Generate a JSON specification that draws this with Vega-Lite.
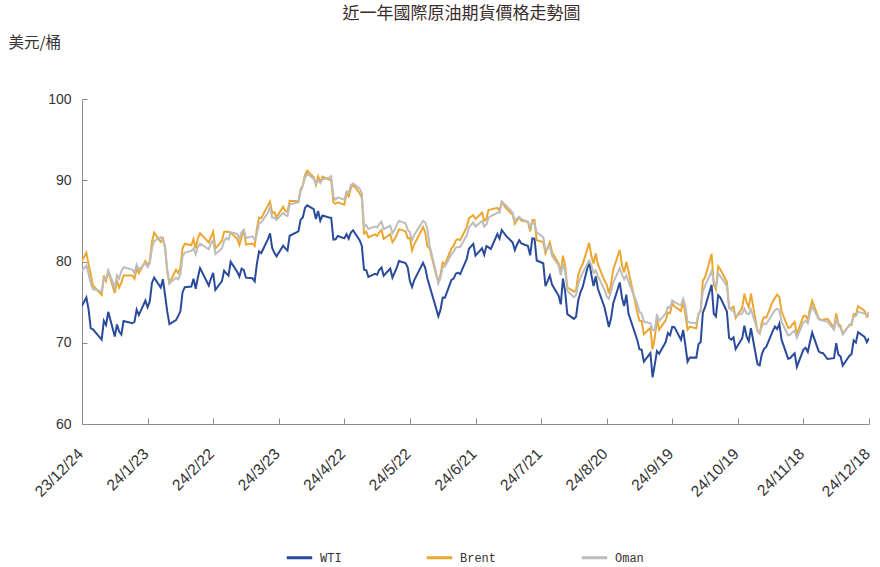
{
"$schema": "https://vega.github.io/schema/vega-lite/v6.json",
"width": 787, "height": 325,
"autosize": "none",
"padding": {"left": 82, "top": 99, "right": 11, "bottom": 143},
"background": "white",
"title": {"text": "近一年國際原油期貨價格走勢圖", "anchor": "middle", "dx": -14, "offset": 12, "font": "Noto Sans CJK TC", "fontSize": 17, "fontWeight": "normal", "color": "#3a2c2c"},
"data": {"values": [
{"d":"2023-12-22","WTI":73.56,"Brent":79.07,"Oman":78.3},
{"d":"2023-12-26","WTI":75.57,"Brent":81.07,"Oman":79.5},
{"d":"2023-12-27","WTI":74.11,"Brent":79.65,"Oman":78.5},
{"d":"2023-12-28","WTI":71.77,"Brent":78.39,"Oman":77.3},
{"d":"2023-12-29","WTI":71.65,"Brent":77.04,"Oman":76.6},
{"d":"2024-01-02","WTI":70.38,"Brent":75.89,"Oman":76.3},
{"d":"2024-01-03","WTI":72.70,"Brent":78.25,"Oman":77.9},
{"d":"2024-01-04","WTI":72.19,"Brent":77.59,"Oman":77.8},
{"d":"2024-01-05","WTI":73.81,"Brent":78.76,"Oman":78.9},
{"d":"2024-01-08","WTI":70.77,"Brent":76.12,"Oman":76.8},
{"d":"2024-01-09","WTI":72.24,"Brent":77.59,"Oman":78.3},
{"d":"2024-01-10","WTI":71.37,"Brent":76.80,"Oman":77.9},
{"d":"2024-01-11","WTI":71.02,"Brent":77.41,"Oman":78.8},
{"d":"2024-01-12","WTI":72.68,"Brent":78.29,"Oman":79.3},
{"d":"2024-01-16","WTI":72.40,"Brent":78.29,"Oman":79.0},
{"d":"2024-01-17","WTI":72.56,"Brent":77.88,"Oman":78.6},
{"d":"2024-01-18","WTI":74.08,"Brent":79.10,"Oman":79.6},
{"d":"2024-01-19","WTI":73.41,"Brent":78.56,"Oman":79.0},
{"d":"2024-01-22","WTI":75.19,"Brent":80.06,"Oman":79.8},
{"d":"2024-01-23","WTI":74.37,"Brent":79.55,"Oman":79.3},
{"d":"2024-01-24","WTI":75.09,"Brent":80.04,"Oman":79.8},
{"d":"2024-01-25","WTI":77.36,"Brent":82.43,"Oman":81.6},
{"d":"2024-01-26","WTI":78.01,"Brent":83.55,"Oman":82.5},
{"d":"2024-01-29","WTI":76.78,"Brent":82.40,"Oman":83.0},
{"d":"2024-01-30","WTI":77.82,"Brent":82.87,"Oman":82.6},
{"d":"2024-01-31","WTI":75.85,"Brent":81.71,"Oman":81.8},
{"d":"2024-02-01","WTI":73.82,"Brent":78.70,"Oman":79.0},
{"d":"2024-02-02","WTI":72.28,"Brent":77.33,"Oman":77.3},
{"d":"2024-02-05","WTI":72.78,"Brent":78.99,"Oman":78.0},
{"d":"2024-02-06","WTI":73.31,"Brent":78.59,"Oman":77.8},
{"d":"2024-02-07","WTI":73.86,"Brent":79.21,"Oman":78.4},
{"d":"2024-02-08","WTI":76.22,"Brent":81.63,"Oman":80.6},
{"d":"2024-02-09","WTI":76.84,"Brent":82.19,"Oman":81.1},
{"d":"2024-02-12","WTI":76.92,"Brent":82.00,"Oman":81.3},
{"d":"2024-02-13","WTI":77.87,"Brent":82.77,"Oman":81.6},
{"d":"2024-02-14","WTI":76.64,"Brent":81.60,"Oman":80.9},
{"d":"2024-02-15","WTI":78.03,"Brent":82.86,"Oman":81.8},
{"d":"2024-02-16","WTI":79.19,"Brent":83.47,"Oman":82.2},
{"d":"2024-02-20","WTI":77.04,"Brent":82.34,"Oman":81.5},
{"d":"2024-02-21","WTI":77.91,"Brent":83.03,"Oman":82.3},
{"d":"2024-02-22","WTI":78.61,"Brent":83.67,"Oman":82.6},
{"d":"2024-02-23","WTI":76.49,"Brent":81.62,"Oman":80.9},
{"d":"2024-02-26","WTI":77.58,"Brent":82.53,"Oman":81.6},
{"d":"2024-02-27","WTI":78.87,"Brent":83.65,"Oman":82.5},
{"d":"2024-02-28","WTI":78.54,"Brent":83.68,"Oman":82.9},
{"d":"2024-02-29","WTI":78.26,"Brent":83.62,"Oman":82.7},
{"d":"2024-03-01","WTI":79.97,"Brent":83.55,"Oman":83.6},
{"d":"2024-03-04","WTI":78.74,"Brent":82.80,"Oman":83.4},
{"d":"2024-03-05","WTI":78.15,"Brent":82.04,"Oman":82.8},
{"d":"2024-03-06","WTI":79.13,"Brent":82.96,"Oman":83.6},
{"d":"2024-03-07","WTI":78.93,"Brent":83.96,"Oman":83.9},
{"d":"2024-03-08","WTI":78.01,"Brent":82.08,"Oman":82.9},
{"d":"2024-03-11","WTI":77.93,"Brent":82.21,"Oman":83.1},
{"d":"2024-03-12","WTI":77.56,"Brent":81.92,"Oman":82.7},
{"d":"2024-03-13","WTI":79.72,"Brent":84.03,"Oman":83.4},
{"d":"2024-03-14","WTI":81.26,"Brent":85.42,"Oman":84.7},
{"d":"2024-03-15","WTI":81.04,"Brent":85.34,"Oman":84.8},
{"d":"2024-03-18","WTI":82.72,"Brent":86.89,"Oman":86.0},
{"d":"2024-03-19","WTI":83.47,"Brent":87.38,"Oman":86.7},
{"d":"2024-03-20","WTI":81.68,"Brent":85.95,"Oman":85.4},
{"d":"2024-03-21","WTI":81.07,"Brent":86.06,"Oman":85.4},
{"d":"2024-03-22","WTI":80.63,"Brent":85.43,"Oman":85.1},
{"d":"2024-03-25","WTI":81.95,"Brent":86.75,"Oman":86.0},
{"d":"2024-03-26","WTI":81.62,"Brent":86.25,"Oman":85.7},
{"d":"2024-03-27","WTI":81.35,"Brent":86.09,"Oman":85.6},
{"d":"2024-03-28","WTI":83.17,"Brent":87.48,"Oman":87.0},
{"d":"2024-04-01","WTI":83.71,"Brent":87.42,"Oman":87.3},
{"d":"2024-04-02","WTI":85.15,"Brent":88.92,"Oman":88.6},
{"d":"2024-04-03","WTI":85.43,"Brent":89.35,"Oman":89.3},
{"d":"2024-04-04","WTI":86.59,"Brent":90.65,"Oman":90.3},
{"d":"2024-04-05","WTI":86.91,"Brent":91.17,"Oman":90.8},
{"d":"2024-04-08","WTI":86.43,"Brent":90.38,"Oman":90.2},
{"d":"2024-04-09","WTI":85.23,"Brent":89.42,"Oman":89.6},
{"d":"2024-04-10","WTI":86.21,"Brent":90.48,"Oman":90.0},
{"d":"2024-04-11","WTI":85.02,"Brent":89.74,"Oman":89.7},
{"d":"2024-04-12","WTI":85.66,"Brent":90.45,"Oman":90.1},
{"d":"2024-04-15","WTI":85.41,"Brent":90.10,"Oman":90.3},
{"d":"2024-04-16","WTI":85.36,"Brent":90.02,"Oman":90.5},
{"d":"2024-04-17","WTI":82.69,"Brent":87.29,"Oman":88.0},
{"d":"2024-04-18","WTI":82.73,"Brent":87.11,"Oman":87.6},
{"d":"2024-04-19","WTI":83.14,"Brent":87.29,"Oman":87.9},
{"d":"2024-04-22","WTI":82.85,"Brent":87.00,"Oman":87.6},
{"d":"2024-04-23","WTI":83.36,"Brent":88.42,"Oman":88.6},
{"d":"2024-04-24","WTI":82.81,"Brent":88.02,"Oman":88.5},
{"d":"2024-04-25","WTI":83.57,"Brent":89.01,"Oman":89.4},
{"d":"2024-04-26","WTI":83.85,"Brent":89.50,"Oman":89.6},
{"d":"2024-04-29","WTI":82.63,"Brent":88.40,"Oman":89.0},
{"d":"2024-04-30","WTI":81.93,"Brent":87.86,"Oman":88.4},
{"d":"2024-05-01","WTI":79.00,"Brent":83.44,"Oman":84.3},
{"d":"2024-05-02","WTI":78.95,"Brent":83.67,"Oman":84.5},
{"d":"2024-05-03","WTI":78.11,"Brent":82.96,"Oman":84.0},
{"d":"2024-05-06","WTI":78.48,"Brent":83.33,"Oman":84.3},
{"d":"2024-05-07","WTI":78.38,"Brent":83.16,"Oman":84.2},
{"d":"2024-05-08","WTI":78.99,"Brent":83.58,"Oman":84.6},
{"d":"2024-05-09","WTI":79.26,"Brent":83.88,"Oman":84.9},
{"d":"2024-05-10","WTI":78.26,"Brent":82.79,"Oman":84.0},
{"d":"2024-05-13","WTI":79.12,"Brent":83.36,"Oman":84.4},
{"d":"2024-05-14","WTI":78.02,"Brent":82.38,"Oman":83.5},
{"d":"2024-05-15","WTI":78.63,"Brent":82.75,"Oman":83.9},
{"d":"2024-05-16","WTI":79.23,"Brent":83.27,"Oman":84.5},
{"d":"2024-05-17","WTI":80.06,"Brent":83.98,"Oman":85.0},
{"d":"2024-05-20","WTI":79.80,"Brent":83.71,"Oman":84.7},
{"d":"2024-05-21","WTI":79.26,"Brent":82.88,"Oman":83.9},
{"d":"2024-05-22","WTI":77.57,"Brent":82.90,"Oman":83.6},
{"d":"2024-05-23","WTI":76.87,"Brent":81.36,"Oman":82.6},
{"d":"2024-05-24","WTI":77.72,"Brent":82.12,"Oman":83.3},
{"d":"2024-05-28","WTI":79.83,"Brent":84.22,"Oman":85.0},
{"d":"2024-05-29","WTI":79.23,"Brent":83.60,"Oman":84.8},
{"d":"2024-05-30","WTI":77.91,"Brent":81.86,"Oman":84.0},
{"d":"2024-05-31","WTI":76.99,"Brent":81.62,"Oman":82.0},
{"d":"2024-06-03","WTI":74.22,"Brent":78.36,"Oman":78.6},
{"d":"2024-06-04","WTI":73.25,"Brent":77.52,"Oman":77.3},
{"d":"2024-06-05","WTI":74.07,"Brent":78.41,"Oman":78.0},
{"d":"2024-06-06","WTI":75.55,"Brent":79.87,"Oman":79.3},
{"d":"2024-06-07","WTI":75.53,"Brent":79.62,"Oman":79.4},
{"d":"2024-06-10","WTI":77.74,"Brent":81.63,"Oman":80.9},
{"d":"2024-06-11","WTI":77.90,"Brent":81.92,"Oman":81.2},
{"d":"2024-06-12","WTI":78.50,"Brent":82.60,"Oman":81.7},
{"d":"2024-06-13","WTI":78.62,"Brent":82.75,"Oman":81.8},
{"d":"2024-06-14","WTI":78.45,"Brent":82.62,"Oman":81.8},
{"d":"2024-06-17","WTI":80.33,"Brent":84.25,"Oman":83.2},
{"d":"2024-06-18","WTI":81.57,"Brent":85.33,"Oman":84.2},
{"d":"2024-06-20","WTI":82.17,"Brent":85.71,"Oman":84.8},
{"d":"2024-06-21","WTI":80.73,"Brent":85.24,"Oman":84.3},
{"d":"2024-06-24","WTI":81.63,"Brent":86.01,"Oman":85.0},
{"d":"2024-06-25","WTI":80.83,"Brent":85.01,"Oman":84.3},
{"d":"2024-06-26","WTI":81.90,"Brent":85.25,"Oman":84.6},
{"d":"2024-06-27","WTI":81.74,"Brent":86.39,"Oman":85.4},
{"d":"2024-06-28","WTI":81.54,"Brent":86.41,"Oman":85.6},
{"d":"2024-07-01","WTI":83.38,"Brent":86.60,"Oman":86.0},
{"d":"2024-07-02","WTI":82.81,"Brent":86.24,"Oman":86.0},
{"d":"2024-07-03","WTI":83.88,"Brent":87.34,"Oman":87.4},
{"d":"2024-07-05","WTI":83.16,"Brent":86.54,"Oman":86.9},
{"d":"2024-07-08","WTI":82.33,"Brent":85.75,"Oman":86.0},
{"d":"2024-07-09","WTI":81.41,"Brent":84.66,"Oman":85.0},
{"d":"2024-07-10","WTI":82.10,"Brent":85.08,"Oman":85.3},
{"d":"2024-07-11","WTI":82.62,"Brent":85.40,"Oman":85.5},
{"d":"2024-07-12","WTI":82.21,"Brent":85.03,"Oman":85.2},
{"d":"2024-07-15","WTI":81.91,"Brent":84.85,"Oman":84.9},
{"d":"2024-07-16","WTI":80.76,"Brent":83.73,"Oman":84.2},
{"d":"2024-07-17","WTI":82.85,"Brent":85.08,"Oman":84.9},
{"d":"2024-07-18","WTI":82.82,"Brent":85.11,"Oman":84.6},
{"d":"2024-07-19","WTI":80.13,"Brent":82.63,"Oman":83.6},
{"d":"2024-07-22","WTI":79.78,"Brent":82.40,"Oman":83.0},
{"d":"2024-07-23","WTI":76.96,"Brent":81.01,"Oman":81.4},
{"d":"2024-07-24","WTI":77.59,"Brent":81.71,"Oman":81.6},
{"d":"2024-07-25","WTI":78.28,"Brent":82.37,"Oman":81.9},
{"d":"2024-07-26","WTI":77.16,"Brent":81.13,"Oman":80.7},
{"d":"2024-07-29","WTI":75.81,"Brent":79.78,"Oman":79.5},
{"d":"2024-07-30","WTI":74.73,"Brent":78.63,"Oman":78.3},
{"d":"2024-07-31","WTI":77.91,"Brent":80.72,"Oman":79.6},
{"d":"2024-08-01","WTI":76.31,"Brent":79.52,"Oman":78.9},
{"d":"2024-08-02","WTI":73.52,"Brent":76.81,"Oman":76.4},
{"d":"2024-08-05","WTI":72.94,"Brent":76.30,"Oman":75.6},
{"d":"2024-08-06","WTI":73.20,"Brent":76.48,"Oman":75.9},
{"d":"2024-08-07","WTI":75.23,"Brent":78.33,"Oman":77.2},
{"d":"2024-08-08","WTI":76.19,"Brent":79.16,"Oman":78.0},
{"d":"2024-08-09","WTI":76.84,"Brent":79.66,"Oman":78.6},
{"d":"2024-08-12","WTI":80.06,"Brent":82.30,"Oman":80.1},
{"d":"2024-08-13","WTI":78.35,"Brent":80.69,"Oman":79.6},
{"d":"2024-08-14","WTI":76.98,"Brent":79.76,"Oman":78.6},
{"d":"2024-08-15","WTI":78.16,"Brent":80.98,"Oman":78.9},
{"d":"2024-08-16","WTI":76.65,"Brent":79.68,"Oman":78.2},
{"d":"2024-08-19","WTI":74.37,"Brent":77.66,"Oman":76.5},
{"d":"2024-08-20","WTI":73.17,"Brent":77.20,"Oman":75.7},
{"d":"2024-08-21","WTI":71.93,"Brent":76.05,"Oman":75.4},
{"d":"2024-08-22","WTI":73.01,"Brent":77.22,"Oman":76.3},
{"d":"2024-08-23","WTI":74.83,"Brent":79.02,"Oman":77.4},
{"d":"2024-08-26","WTI":77.42,"Brent":81.43,"Oman":79.2},
{"d":"2024-08-27","WTI":75.53,"Brent":79.55,"Oman":78.4},
{"d":"2024-08-28","WTI":74.52,"Brent":78.65,"Oman":77.8},
{"d":"2024-08-29","WTI":75.91,"Brent":79.94,"Oman":78.3},
{"d":"2024-08-30","WTI":73.55,"Brent":78.80,"Oman":77.5},
{"d":"2024-09-03","WTI":70.34,"Brent":73.75,"Oman":74.8},
{"d":"2024-09-04","WTI":69.20,"Brent":72.70,"Oman":73.8},
{"d":"2024-09-05","WTI":69.15,"Brent":72.69,"Oman":73.6},
{"d":"2024-09-06","WTI":67.67,"Brent":71.06,"Oman":72.6},
{"d":"2024-09-09","WTI":68.71,"Brent":71.84,"Oman":72.4},
{"d":"2024-09-10","WTI":65.75,"Brent":69.19,"Oman":71.6},
{"d":"2024-09-11","WTI":67.31,"Brent":70.61,"Oman":71.5},
{"d":"2024-09-12","WTI":68.97,"Brent":72.97,"Oman":73.5},
{"d":"2024-09-13","WTI":68.65,"Brent":71.61,"Oman":72.7},
{"d":"2024-09-16","WTI":70.09,"Brent":72.75,"Oman":73.6},
{"d":"2024-09-17","WTI":71.19,"Brent":73.70,"Oman":74.4},
{"d":"2024-09-18","WTI":70.91,"Brent":73.65,"Oman":74.3},
{"d":"2024-09-19","WTI":71.95,"Brent":74.88,"Oman":75.2},
{"d":"2024-09-20","WTI":71.92,"Brent":74.49,"Oman":75.0},
{"d":"2024-09-23","WTI":70.37,"Brent":73.90,"Oman":74.6},
{"d":"2024-09-24","WTI":71.56,"Brent":75.17,"Oman":75.4},
{"d":"2024-09-25","WTI":69.69,"Brent":73.46,"Oman":74.5},
{"d":"2024-09-26","WTI":67.67,"Brent":71.60,"Oman":72.6},
{"d":"2024-09-27","WTI":68.18,"Brent":71.98,"Oman":72.5},
{"d":"2024-09-30","WTI":68.17,"Brent":71.77,"Oman":72.4},
{"d":"2024-10-01","WTI":69.83,"Brent":73.56,"Oman":73.5},
{"d":"2024-10-02","WTI":70.10,"Brent":73.90,"Oman":74.1},
{"d":"2024-10-03","WTI":73.71,"Brent":77.62,"Oman":76.3},
{"d":"2024-10-04","WTI":74.38,"Brent":78.05,"Oman":77.0},
{"d":"2024-10-07","WTI":77.14,"Brent":80.93,"Oman":78.8},
{"d":"2024-10-08","WTI":73.57,"Brent":77.18,"Oman":77.5},
{"d":"2024-10-09","WTI":73.24,"Brent":76.58,"Oman":76.9},
{"d":"2024-10-10","WTI":75.85,"Brent":79.40,"Oman":78.5},
{"d":"2024-10-11","WTI":75.56,"Brent":79.04,"Oman":78.2},
{"d":"2024-10-14","WTI":73.83,"Brent":77.46,"Oman":77.0},
{"d":"2024-10-15","WTI":70.58,"Brent":74.25,"Oman":74.4},
{"d":"2024-10-16","WTI":70.39,"Brent":74.22,"Oman":74.0},
{"d":"2024-10-17","WTI":70.67,"Brent":74.45,"Oman":73.9},
{"d":"2024-10-18","WTI":69.22,"Brent":73.06,"Oman":73.3},
{"d":"2024-10-21","WTI":70.56,"Brent":74.29,"Oman":73.6},
{"d":"2024-10-22","WTI":72.09,"Brent":76.04,"Oman":74.2},
{"d":"2024-10-23","WTI":70.77,"Brent":74.96,"Oman":73.6},
{"d":"2024-10-24","WTI":70.19,"Brent":74.38,"Oman":73.5},
{"d":"2024-10-25","WTI":71.78,"Brent":76.05,"Oman":74.1},
{"d":"2024-10-28","WTI":67.38,"Brent":71.42,"Oman":71.5},
{"d":"2024-10-29","WTI":67.21,"Brent":71.12,"Oman":71.2},
{"d":"2024-10-30","WTI":68.61,"Brent":72.55,"Oman":72.0},
{"d":"2024-10-31","WTI":69.26,"Brent":73.16,"Oman":72.4},
{"d":"2024-11-01","WTI":69.49,"Brent":73.10,"Oman":72.3},
{"d":"2024-11-04","WTI":71.47,"Brent":75.08,"Oman":73.6},
{"d":"2024-11-05","WTI":71.99,"Brent":75.53,"Oman":74.0},
{"d":"2024-11-06","WTI":71.69,"Brent":75.92,"Oman":74.2},
{"d":"2024-11-07","WTI":72.36,"Brent":75.63,"Oman":74.0},
{"d":"2024-11-08","WTI":70.38,"Brent":73.87,"Oman":72.6},
{"d":"2024-11-11","WTI":68.04,"Brent":71.83,"Oman":70.9},
{"d":"2024-11-12","WTI":68.12,"Brent":71.89,"Oman":71.0},
{"d":"2024-11-13","WTI":68.43,"Brent":72.28,"Oman":71.3},
{"d":"2024-11-14","WTI":68.70,"Brent":72.56,"Oman":71.5},
{"d":"2024-11-15","WTI":67.02,"Brent":71.04,"Oman":70.6},
{"d":"2024-11-18","WTI":69.16,"Brent":73.30,"Oman":72.5},
{"d":"2024-11-19","WTI":69.39,"Brent":73.31,"Oman":72.7},
{"d":"2024-11-20","WTI":68.87,"Brent":72.81,"Oman":72.4},
{"d":"2024-11-21","WTI":70.10,"Brent":74.23,"Oman":73.6},
{"d":"2024-11-22","WTI":71.24,"Brent":75.17,"Oman":74.5},
{"d":"2024-11-25","WTI":68.94,"Brent":73.01,"Oman":72.9},
{"d":"2024-11-26","WTI":68.77,"Brent":72.81,"Oman":72.8},
{"d":"2024-11-27","WTI":68.72,"Brent":72.83,"Oman":72.7},
{"d":"2024-11-29","WTI":68.00,"Brent":72.94,"Oman":72.6},
{"d":"2024-12-02","WTI":68.10,"Brent":71.83,"Oman":71.6},
{"d":"2024-12-03","WTI":69.94,"Brent":73.62,"Oman":72.9},
{"d":"2024-12-04","WTI":68.54,"Brent":72.31,"Oman":72.1},
{"d":"2024-12-05","WTI":68.30,"Brent":72.09,"Oman":71.8},
{"d":"2024-12-06","WTI":67.20,"Brent":71.12,"Oman":71.0},
{"d":"2024-12-09","WTI":68.37,"Brent":72.14,"Oman":72.2},
{"d":"2024-12-10","WTI":68.59,"Brent":72.19,"Oman":72.4},
{"d":"2024-12-11","WTI":70.29,"Brent":73.52,"Oman":73.2},
{"d":"2024-12-12","WTI":70.02,"Brent":73.41,"Oman":73.3},
{"d":"2024-12-13","WTI":71.29,"Brent":74.49,"Oman":73.8},
{"d":"2024-12-16","WTI":70.71,"Brent":73.91,"Oman":73.6},
{"d":"2024-12-17","WTI":70.08,"Brent":73.19,"Oman":73.4},
{"d":"2024-12-18","WTI":70.58,"Brent":73.39,"Oman":73.8}
]},
"transform": [{"fold": ["WTI", "Brent", "Oman"], "as": ["series", "price"]}],
"mark": {"type": "line", "strokeWidth": 2, "clip": true},
"encoding": {
  "x": {"field": "d", "type": "temporal",
    "scale": {"type": "utc", "domain": [{"year": 2023, "month": 12, "date": 24, "utc": true}, {"year": 2024, "month": 12, "date": 18, "utc": true}]},
    "axis": {"title": null, "grid": false, "format": "%y/%-m/%-d", "labelAngle": -45, "labelFont": "Liberation Sans", "labelFontSize": 15.5, "labelColor": "#333333", "domainColor": "#8c8c8c", "tickColor": "#8c8c8c", "tickSize": -6, "labelPadding": 28, "labelOffset": -7, "labelOverlap": false, "labelFlush": false,
      "values": [
        {"year": 2023, "month": 12, "date": 24, "utc": true},
        {"year": 2024, "month": 1, "date": 23, "utc": true},
        {"year": 2024, "month": 2, "date": 22, "utc": true},
        {"year": 2024, "month": 3, "date": 23, "utc": true},
        {"year": 2024, "month": 4, "date": 22, "utc": true},
        {"year": 2024, "month": 5, "date": 22, "utc": true},
        {"year": 2024, "month": 6, "date": 21, "utc": true},
        {"year": 2024, "month": 7, "date": 21, "utc": true},
        {"year": 2024, "month": 8, "date": 20, "utc": true},
        {"year": 2024, "month": 9, "date": 19, "utc": true},
        {"year": 2024, "month": 10, "date": 19, "utc": true},
        {"year": 2024, "month": 11, "date": 18, "utc": true},
        {"year": 2024, "month": 12, "date": 18, "utc": true}
      ]}},
  "y": {"field": "price", "type": "quantitative",
    "scale": {"domain": [60, 100], "nice": false, "zero": false},
    "axis": {"values": [60, 70, 80, 90, 100], "grid": false, "title": "美元/桶", "titleAngle": 0, "titleAlign": "left", "titleBaseline": "middle", "titleX": -74, "titleY": -57, "titleFont": "Noto Sans CJK TC", "titleFontSize": 15.5, "titleFontWeight": "normal", "titleColor": "#333333", "labelFont": "Liberation Sans", "labelFontSize": 14, "labelColor": "#333333", "domainColor": "#8c8c8c", "tickColor": "#8c8c8c", "tickSize": -5, "labelPadding": 16}},
  "color": {"field": "series", "type": "nominal",
    "scale": {"domain": ["WTI", "Brent", "Oman"], "range": ["#2a4b9b", "#eba732", "#bdbdbd"]},
    "legend": {"title": null, "orient": "none", "legendX": 203, "legendY": 444, "direction": "horizontal", "symbolType": "stroke", "symbolSize": 650, "symbolStrokeWidth": 3, "labelFont": "Liberation Mono", "labelFontSize": 12, "labelColor": "#333333", "columnPadding": 78, "labelOffset": 6}}
},
"config": {"view": {"stroke": null}}
}
